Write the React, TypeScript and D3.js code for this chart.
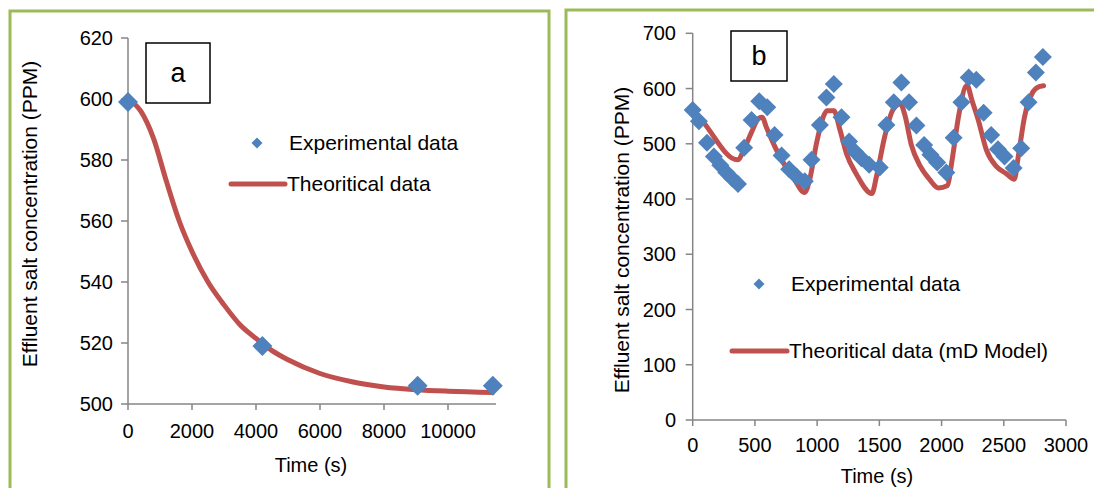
import React from "react";
import * as d3 from "d3";

// ---------- Panel a data ----------
const aExpTime = [0, 4200, 9050, 11400];
const aExpConc = [599, 519, 506, 506];
const aTheoTime = [0, 400, 800, 1200, 1600, 2000, 2500, 3000, 3500, 4000, 4500, 5000, 6000, 7000, 8000, 9000, 10000, 11400];
const aTheoConc = [600, 596, 587, 573, 560, 550, 540, 532.5, 526, 521.5, 517.5, 514.5, 510, 507.3, 505.6, 504.7, 504.2, 503.8];
const aXTicks = [0, 2000, 4000, 6000, 8000, 10000];
const aYTicks = [500, 520, 540, 560, 580, 600, 620];

// ---------- Panel b data ----------
const bExpTime = [0, 50, 115, 170, 222, 270, 318, 364, 414, 473, 535, 599, 658, 714, 775, 835, 901, 955, 1022, 1075, 1134, 1196, 1257, 1303, 1356, 1418, 1503, 1557, 1616, 1677, 1739, 1798, 1860, 1910, 1965, 2038, 2097, 2159, 2218, 2279, 2338, 2399, 2453, 2506, 2579, 2640, 2699, 2758, 2814];
const bExpConc = [561, 541, 502, 477, 461, 448, 437, 427, 493, 543, 577, 566, 516, 479, 454, 441, 432, 471, 534, 584, 608, 548, 504, 486, 474, 462, 457, 534, 575, 611, 575, 533, 498, 480, 466, 448, 511, 575, 620, 616, 556, 516, 490, 477, 456, 492, 575, 629, 657];
const bTheoTime = [0, 60, 360, 420, 475, 530, 560, 590, 660, 730, 810, 900, 940, 995, 1055, 1080, 1135, 1180, 1236, 1316, 1440, 1477, 1543, 1610, 1670, 1705, 1757, 1830, 1905, 1975, 2045, 2085, 2136, 2204, 2245, 2295, 2360, 2440, 2520, 2585, 2615, 2667, 2734, 2770, 2820];
const bTheoConc = [560, 546, 471, 494, 522, 546, 548, 531, 495, 465, 438, 412, 435, 501, 552, 560, 560, 528, 482, 445, 410, 441, 513, 562, 572, 552, 498, 459, 435, 420, 424, 471, 549, 606, 578, 543, 489, 459, 446, 436, 475, 549, 594, 602, 605];
const bXTicks = [0, 500, 1000, 1500, 2000, 2500, 3000];
const bYTicks = [0, 100, 200, 300, 400, 500, 600, 700];

const BLUE = "#4F81BD";
const RED = "#C0504D";
const GREEN = "#9BBB59";
const AXIS = "#868686";
const FONT = "'Liberation Sans', Arial, sans-serif";

function diamond(cx: number, cy: number, r: number) {
  return `M${cx},${cy - r}L${cx + r},${cy}L${cx},${cy + r}L${cx - r},${cy}Z`;
}

type PanelProps = {
  expT: number[]; expC: number[]; theoT: number[]; theoC: number[];
  xTicks: number[]; yTicks: number[];
  xDomain: [number, number]; yDomain: [number, number];
  xRange: [number, number]; yRange: [number, number];
  xLabelY: number; xTitle: [number, number]; yTitle: [number, number];
  yLabelRight: number;
  box: [number, number, number, number]; boxLabel: string;
  legExp: [number, number]; legTheo: [number, number, number];
  legExpText: string; legTheoText: string; markerR: number;
};

function Panel(p: PanelProps) {
  const x = d3.scaleLinear().domain(p.xDomain).range(p.xRange);
  const y = d3.scaleLinear().domain(p.yDomain).range(p.yRange);
  const pts = p.theoT.map((t, i) => [t, p.theoC[i]] as [number, number]);
  const line = d3.line<[number, number]>().x(d => x(d[0])).y(d => y(d[1])).curve(d3.curveMonotoneX);
  const x0 = p.xRange[0];
  const yb = p.yRange[0];
  return (
    <g fontFamily={FONT}>
      {/* axes */}
      <line x1={x0} x2={x0} y1={p.yRange[1]} y2={yb} stroke={AXIS} strokeWidth={1.5} />
      <line x1={x0} x2={p.xRange[1]} y1={yb} y2={yb} stroke={AXIS} strokeWidth={1.5} />
      {p.yTicks.map(t => (
        <g key={"y" + t}>
          <line x1={x0 - 7} x2={x0} y1={y(t)} y2={y(t)} stroke={AXIS} strokeWidth={1.5} />
          <text x={p.yLabelRight} y={y(t)} dy="0.35em" textAnchor="end" fontSize={20} fill="#000">{t}</text>
        </g>
      ))}
      {p.xTicks.map(t => (
        <g key={"x" + t}>
          <line x1={x(t)} x2={x(t)} y1={yb} y2={yb + 6} stroke={AXIS} strokeWidth={1.5} />
          <text x={x(t)} y={p.xLabelY} dy="0.35em" textAnchor="middle" fontSize={20} fill="#000">{t}</text>
        </g>
      ))}
      <text x={p.xTitle[0]} y={p.xTitle[1]} dy="0.35em" textAnchor="middle" fontSize={20}>Time (s)</text>
      <text transform={`translate(${p.yTitle[0]},${p.yTitle[1]}) rotate(-90)`} dy="0.35em" textAnchor="middle" fontSize={21}>
        Effluent salt concentration (PPM)
      </text>
      {/* theory line */}
      <path d={line(pts) || ""} fill="none" stroke={RED} strokeWidth={5} strokeLinejoin="round" strokeLinecap="round" />
      {/* experimental markers */}
      {p.expT.map((t, i) => (
        <path key={"m" + i} d={diamond(x(t), y(p.expC[i]), p.markerR)} fill={BLUE} />
      ))}
      {/* label box */}
      <rect x={p.box[0]} y={p.box[1]} width={p.box[2]} height={p.box[3]} fill="#fff" stroke="#000" strokeWidth={1.5} />
      <text x={p.box[0] + p.box[2] / 2} y={p.box[1] + p.box[3] / 2} dy="0.35em" textAnchor="middle" fontSize={27}>{p.boxLabel}</text>
      {/* legend */}
      <path d={diamond(p.legExp[0], p.legExp[1], 5.5)} fill={BLUE} />
      <text x={p.legExp[0] + 32} y={p.legExp[1]} dy="0.35em" fontSize={21}>{p.legExpText}</text>
      <line x1={p.legTheo[0]} x2={p.legTheo[1]} y1={p.legTheo[2]} y2={p.legTheo[2]} stroke={RED} strokeWidth={5} strokeLinecap="round" />
      <text x={p.legTheo[1] + 2} y={p.legTheo[2]} dy="0.35em" fontSize={21}>{p.legTheoText}</text>
    </g>
  );
}

export default function App() {
  return (
    <svg width={1094} height={488} style={{ position: "absolute", left: 0, top: 0, background: "#fff" }}>
      <rect x={0} y={0} width={1094} height={488} fill="#fff" />
      <rect x={10} y={11} width={539} height={500} fill="none" stroke={GREEN} strokeWidth={3} />
      <rect x={566} y={10} width={560} height={500} fill="none" stroke={GREEN} strokeWidth={3} />
      <Panel
        expT={aExpTime} expC={aExpConc} theoT={aTheoTime} theoC={aTheoConc}
        xTicks={aXTicks} yTicks={aYTicks}
        xDomain={[0, 11500]} yDomain={[500, 620]}
        xRange={[128, 496]} yRange={[404, 38]}
        xLabelY={431} xTitle={[311, 465]} yTitle={[30, 214]} yLabelRight={113}
        box={[146, 43, 64, 60]} boxLabel="a"
        legExp={[257, 143]} legTheo={[231, 285, 184]}
        legExpText="Experimental data" legTheoText="Theoritical data" markerR={10}
      />
      <Panel
        expT={bExpTime} expC={bExpConc} theoT={bTheoTime} theoC={bTheoConc}
        xTicks={bXTicks} yTicks={bYTicks}
        xDomain={[0, 3000]} yDomain={[0, 700]}
        xRange={[692.7, 1066]} yRange={[420, 33.3]}
        xLabelY={445} xTitle={[877, 476]} yTitle={[622, 240]} yLabelRight={676}
        box={[731, 31, 56, 50]} boxLabel="b"
        legExp={[759, 284]} legTheo={[732, 787, 351]}
        legExpText="Experimental data" legTheoText="Theoritical data (mD Model)" markerR={9}
      />
    </svg>
  );
}
